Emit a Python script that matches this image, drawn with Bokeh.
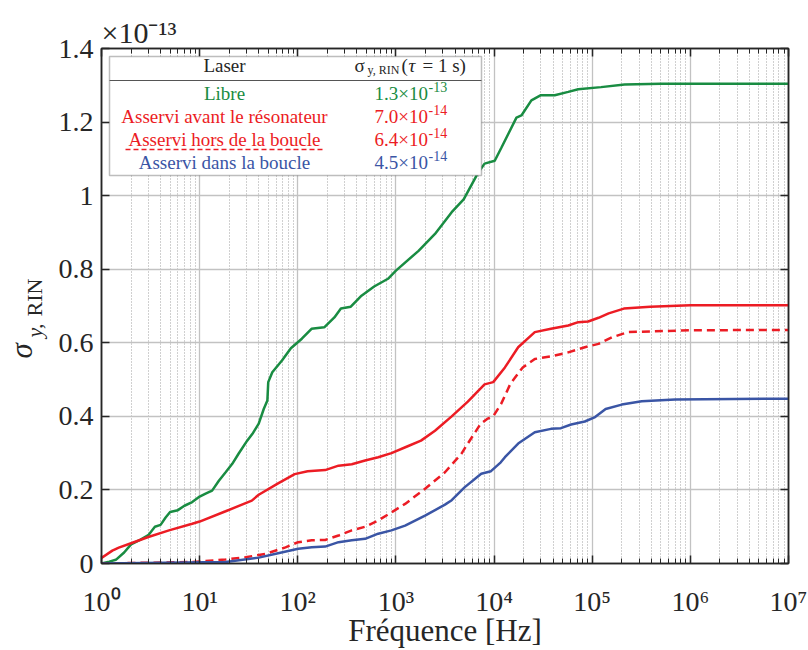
from bokeh.plotting import figure
from bokeh.layouts import row
from bokeh.models import (Range1d, FixedTicker, CustomJSTickFormatter, LogAxis, LinearAxis,
                          Label, BoxAnnotation, Arrow)
from bokeh.embed import file_html
from bokeh.resources import INLINE
import math

# ---------------- data (sigma values in units of 1e-13) ----------------
freq_libre = [1, 1.2, 1.4, 1.7, 2, 2.5, 3, 3.5, 4, 4.5, 5, 6, 7, 8.4, 10, 11.5, 13.4, 15.7,
              18.4, 21.5, 25, 30.5, 35, 40, 45, 49, 50, 55, 69, 85, 110, 138, 186, 236, 275,
              347, 446, 600, 830, 1000, 1700, 2500, 3700, 4900, 6800, 8000, 10160, 11900,
              16900, 19000, 24000, 30000, 41500, 57000, 72000, 123000, 214000, 500000, 1e7]
sig_libre = [0.0, 0.005, 0.01, 0.03, 0.052, 0.065, 0.077, 0.1, 0.105, 0.125, 0.14, 0.145,
             0.157, 0.167, 0.182, 0.19, 0.198, 0.225, 0.248, 0.271, 0.299, 0.334, 0.355,
             0.38, 0.42, 0.443, 0.493, 0.52, 0.552, 0.585, 0.611, 0.638, 0.642, 0.669, 0.693,
             0.698, 0.728, 0.753, 0.774, 0.796, 0.85, 0.896, 0.955, 0.99, 1.06, 1.087, 1.095,
             1.131, 1.212, 1.218, 1.259, 1.273, 1.273, 1.282, 1.289, 1.295, 1.302, 1.304, 1.304]

freq_avant = [1, 1.29, 1.5, 2, 3, 4.87, 8.4, 10, 18.4, 34, 40, 63, 93, 126, 190, 260, 355,
              485, 660, 900, 1300, 1800, 2500, 3700, 5400, 8000, 9800, 12900, 17600, 26000,
              38000, 57000, 72000, 91000, 116000, 147000, 210000, 390000, 1e6, 1e7]
sig_avant = [0.015, 0.035, 0.043, 0.055, 0.072, 0.09, 0.108, 0.114, 0.142, 0.171, 0.187,
             0.218, 0.243, 0.251, 0.254, 0.266, 0.27, 0.28, 0.289, 0.3, 0.318, 0.334, 0.361,
             0.40, 0.44, 0.487, 0.493, 0.533, 0.588, 0.629, 0.638, 0.647, 0.656, 0.658,
             0.668, 0.68, 0.693, 0.698, 0.702, 0.702]

freq_hors = [1, 8.4, 18.4, 29.3, 46.9, 75, 101, 139, 190, 260, 355, 485, 660, 900, 1240,
             1980, 3160, 4640, 5400, 7300, 8500, 9800, 11800, 14700, 19600, 26000, 38000,
             57000, 84000, 116000, 159000, 233000, 400000, 1e6, 1e7]
sig_hors = [0.0, 0.004, 0.011, 0.017, 0.026, 0.044, 0.058, 0.063, 0.064, 0.076, 0.09, 0.1,
            0.117, 0.139, 0.162, 0.203, 0.248, 0.298, 0.326, 0.38, 0.393, 0.4, 0.434, 0.489,
            0.533, 0.556, 0.563, 0.574, 0.588, 0.597, 0.615, 0.629, 0.631, 0.634, 0.635]

freq_dans = [1, 18.4, 40, 63, 101, 139, 190, 260, 355, 485, 660, 900, 1240, 1980, 3160,
             3700, 5000, 7400, 9300, 11700, 12900, 17600, 26000, 38000, 48000, 61000, 84000,
             107000, 137000, 200000, 320000, 700000, 1e7]
sig_dans = [0.0, 0.004, 0.016, 0.028, 0.04, 0.044, 0.046, 0.058, 0.063, 0.067, 0.081, 0.09,
            0.103, 0.13, 0.16, 0.172, 0.207, 0.244, 0.251, 0.275, 0.289, 0.326, 0.357, 0.366,
            0.368, 0.378, 0.386, 0.398, 0.42, 0.432, 0.441, 0.446, 0.448]

x_ticks = [1, 10, 100, 1e3, 1e4, 1e5, 1e6, 1e7]
x_minor = [m * 10 ** d for d in range(7) for m in range(2, 10)]
y_ticks = [0, 0.2, 0.4, 0.6, 0.8, 1.0, 1.2, 1.4]

legend_names = ["Libre", "Asservi avant le résonateur", "Asservi hors de la boucle",
                "Asservi dans la boucle"]
legend_mant = ["1.3×10", "7.0×10", "6.4×10", "4.5×10"]
legend_exp = ["-13", "-14", "-14", "-14"]

GREEN = "#198c42"
RED = "#ec1c24"
BLUE = "#3a55a5"
DARK = "#262626"
FONT = "Liberation Serif"
legend_colors = [GREEN, RED, RED, BLUE]

W, H = 808, 650
LW = 55  # width of the y-label strip

# ---------------- main figure ----------------
p = figure(x_axis_type="log", x_range=Range1d(1, 1e7), y_range=Range1d(0, 1.4),
           width=W - LW, height=H, output_backend="svg", toolbar_location=None,
           min_border_left=44, min_border_right=20, min_border_top=48, min_border_bottom=87)
p.background_fill_color = "white"
p.border_fill_color = "white"
p.outline_line_color = DARK
p.outline_line_width = 1.5

bottom_axis = p.below[0]
left_axis = p.left[0]

xt = FixedTicker(ticks=x_ticks, minor_ticks=x_minor)
yt = FixedTicker(ticks=y_ticks)
xfmt = CustomJSTickFormatter(code="""
const sup = ['\u2070','\u00b9','\u00b2','\u00b3','\u2074','\u2075','\u2076','\u2077','\u2078','\u2079'];
const e = Math.round(Math.log10(tick));
return '10' + String(e).split('').map(d => sup[parseInt(d)]).join('');
""")
yfmt = CustomJSTickFormatter(code="return tick.toFixed(1).replace(/\\.0$/, '');")

bottom_axis.ticker = xt
bottom_axis.formatter = xfmt
left_axis.ticker = yt
left_axis.formatter = yfmt

top_axis = LogAxis(ticker=xt, formatter=xfmt, major_label_text_font_size="0px",
                   major_label_text_color=None, major_label_standoff=0)
right_axis = LinearAxis(ticker=yt, formatter=yfmt, major_label_text_font_size="0px",
                        major_label_text_color=None, major_label_standoff=0)
p.add_layout(top_axis, "above")
p.add_layout(right_axis, "right")

for ax in [bottom_axis, left_axis, top_axis, right_axis]:
    ax.axis_line_color = DARK
    ax.axis_line_width = 1.5
    ax.major_tick_line_color = DARK
    ax.major_tick_line_width = 1.5
    ax.minor_tick_line_color = DARK
    ax.minor_tick_line_width = 1
    ax.major_tick_in = 8
    ax.major_tick_out = 0
    ax.minor_tick_in = 5
    ax.minor_tick_out = 0
    ax.major_label_text_font = FONT

for ax in [bottom_axis, left_axis]:
    ax.major_label_text_color = DARK
    ax.major_label_text_font_size = "28px"

bottom_axis.major_label_standoff = 22
left_axis.major_label_standoff = 8

bottom_axis.axis_label = "Fréquence [Hz]"
bottom_axis.axis_label_text_font = FONT
bottom_axis.axis_label_text_font_style = "normal"
bottom_axis.axis_label_text_font_size = "31px"
bottom_axis.axis_label_text_color = DARK
bottom_axis.axis_label_standoff = -7

p.xgrid.ticker = xt
p.ygrid.ticker = yt
for g in [p.xgrid, p.ygrid]:
    g.grid_line_color = "#c2c2c2"
    g.grid_line_width = 1.3
p.xgrid.minor_grid_line_color = "#a0a0a0"
p.xgrid.minor_grid_line_dash = "1 2"
p.xgrid.minor_grid_line_width = 1

# exponent of the y axis, above the frame
p.title.text = "×10\u207b\u00b9\u00b3"
p.title.align = "left"
p.title.offset = 0
p.title.standoff = 0
p.title.text_font = FONT
p.title.text_font_size = "30px"
p.title.text_font_style = "normal"
p.title.text_color = DARK

# ---------------- curves ----------------
p.line(freq_libre, sig_libre, line_color=GREEN, line_width=2.5)
p.line(freq_avant, sig_avant, line_color=RED, line_width=2.5)
p.line(freq_hors, sig_hors, line_color=RED, line_width=2.5, line_dash="8 5")
p.line(freq_dans, sig_dans, line_color=BLUE, line_width=2.5)


def lab(fig, x, y, text, size, color=DARK, align="left", baseline="alphabetic",
        style="normal", angle=0):
    fig.add_layout(Label(x=x, y=y, x_units="screen", y_units="screen", text=text,
                         text_font=FONT, text_font_size=size, text_color=color,
                         text_align=align, text_baseline=baseline,
                         text_font_style=style, angle=angle))


# ---------------- legend table (inside the frame) ----------------
p.add_layout(BoxAnnotation(left=8, right=380, top=507, bottom=388,
                           left_units="screen", right_units="screen",
                           top_units="screen", bottom_units="screen",
                           fill_color="white", fill_alpha=1.0,
                           line_color=DARK, line_width=1.5))
p.add_layout(Arrow(x_start=8, y_start=483, x_end=380, y_end=483,
                   start_units="screen", end_units="screen", end=None,
                   line_color="#555555", line_width=1))

lab(p, 123, 498, "Laser", "19px", align="center")
lab(p, 253, 498, "σ", "19px")
lab(p, 266, 494, "y, RIN", "12px")
lab(p, 300, 498, "(", "19px")
lab(p, 307, 498, "τ", "19px", style="italic")
lab(p, 321, 498, "= 1 s)", "19px")

row_y = [470, 447, 424, 401]
for name, mant, ex, col, yy in zip(legend_names, legend_mant, legend_exp, legend_colors, row_y):
    lab(p, 123, yy, name, "19px", color=col, align="center")
    lab(p, 273, yy, mant, "19px", color=col)
    lab(p, 327, yy + 7, ex, "14px", color=col)

p.add_layout(Arrow(x_start=24, y_start=414, x_end=221, y_end=414,
                   start_units="screen", end_units="screen", end=None,
                   line_color=RED, line_width=1.5, line_dash="5 3"))

# ---------------- y-axis label strip ----------------
lf = figure(width=LW, height=H, x_range=Range1d(0, LW), y_range=Range1d(0, H),
            output_backend="svg", toolbar_location=None, min_border=0,
            x_axis_location=None, y_axis_location=None)
lf.outline_line_color = None
lf.grid.visible = False
lf.background_fill_color = "white"
lf.border_fill_color = "white"
lab(lf, 21, 205, "σ", "31px", style="italic", angle=math.pi / 2)
lab(lf, 34, 226, "y,", "22px", style="italic", angle=math.pi / 2)
lab(lf, 34, 247, "RIN", "22px", angle=math.pi / 2)

layout = row(lf, p)
open("out.html", "w").write(file_html(layout, INLINE))
